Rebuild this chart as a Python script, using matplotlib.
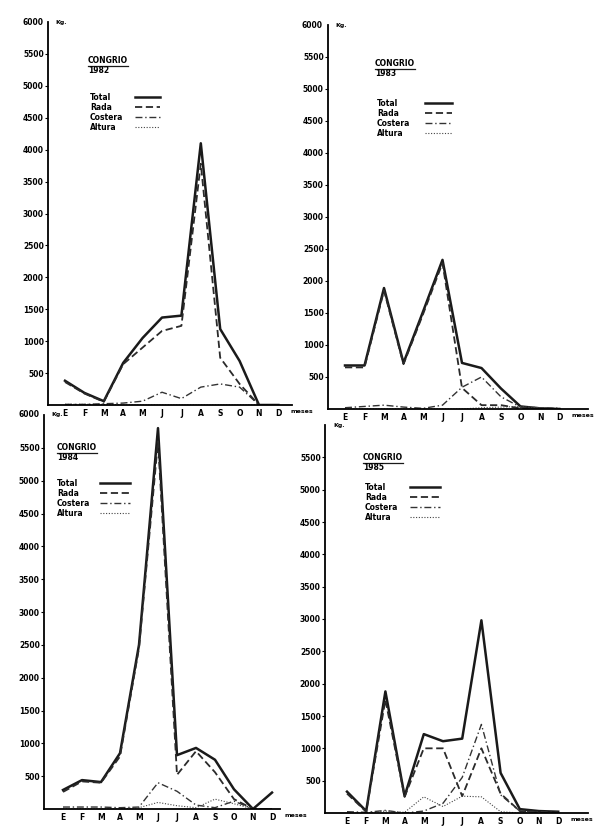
import numpy as np
import matplotlib
matplotlib.use("Agg")
import matplotlib.pyplot as plt
from matplotlib.lines import Line2D

# Captura mensual de congrio (Kg.), por año y por flota
meses = ['E', 'F', 'M', 'A', 'M', 'J', 'J', 'A', 'S', 'O', 'N', 'D']
series = ['Total', 'Rada', 'Costera', 'Altura']

total_82 = [380, 190, 60, 660, 1050, 1370, 1400, 4100, 1190, 690, 0, 0]
rada_82 = [360, 180, 50, 640, 900, 1160, 1240, 3780, 740, 330, 0, 0]
costera_82 = [10, 10, 20, 30, 60, 200, 100, 280, 330, 280, 0, 0]
altura_82 = [10, 10, 10, 0, 0, 0, 0, 0, 0, 0, 0, 0]

total_83 = [680, 680, 1890, 720, 1520, 2330, 720, 640, 320, 40, 10, 0]
rada_83 = [650, 650, 1850, 700, 1480, 2280, 330, 60, 60, 10, 0, 0]
costera_83 = [20, 40, 60, 30, 10, 60, 340, 500, 190, 30, 20, 10]
altura_83 = [0, 0, 0, 0, 0, 0, 0, 20, 30, 40, 20, 10]

total_84 = [290, 440, 410, 850, 2500, 5800, 820, 930, 750, 300, 0, 250]
rada_84 = [260, 420, 400, 800, 2450, 5600, 520, 880, 560, 150, 0, 0]
costera_84 = [30, 30, 30, 20, 30, 400, 270, 60, 20, 120, 0, 0]
altura_84 = [0, 0, 0, 0, 20, 100, 50, 20, 150, 80, 0, 0]

total_85 = [330, 30, 1880, 260, 1220, 1110, 1150, 2980, 620, 60, 30, 20]
rada_85 = [300, 20, 1750, 250, 1000, 1000, 260, 1000, 300, 30, 10, 0]
costera_85 = [20, 10, 40, 0, 30, 150, 550, 1370, 280, 30, 20, 10]
altura_85 = [0, 0, 30, 10, 250, 100, 260, 250, 20, 0, 0, 0]

anios = ['1982', '1983', '1984', '1985']
datos = [
    [total_82, rada_82, costera_82, altura_82],
    [total_83, rada_83, costera_83, altura_83],
    [total_84, rada_84, costera_84, altura_84],
    [total_85, rada_85, costera_85, altura_85],
]
yticks = [500, 1000, 1500, 2000, 2500, 3000, 3500, 4000, 4500, 5000, 5500]

# estilos de linea: total, rada, costera, altura
estilos = [
    dict(ls='-', lw=1.8, color='#1a1a1a'),
    dict(ls=(0, (4, 2)), lw=1.3, color='#2a2a2a'),
    dict(ls=(0, (5, 2, 1, 2)), lw=1.0, color='#333333'),
    dict(ls=(0, (1, 1.5)), lw=0.8, color='#444444'),
]

W, H = 605, 836
# [eje y (px), base (px), tope 6000 (px), derecha (px), x de E (px), paso mes (px)]
paneles = [
    [48, 405, 22, 292, 65, 19.4],
    [328, 409, 25, 588, 345, 19.5],
    [44, 809, 415, 280, 63, 19.0],
    [325, 813, 425, 588, 347, 19.2],
]
# rotulo CONGRIO (px) y leyenda: texto x, y primera fila, linea x0-x1
rotulos = [
    (88, 65, 90, 97, 135, 160),
    (375, 68, 377, 103, 425, 452),
    (57, 452, 57, 483, 100, 130),
    (363, 462, 365, 487, 410, 440),
]

fig = plt.figure(figsize=(W / 100, H / 100), dpi=100)
fig.patch.set_facecolor('white')

for k in range(4):
    x0, yb, yt, xr, xe, paso = paneles[k]
    ax = fig.add_axes([x0 / W, 1 - yb / H, (xr - x0) / W, (yb - yt) / H])
    ax.set_xlim((x0 - xe) / paso, (xr - xe) / paso)
    ax.set_ylim(0, 6000)
    ax.spines['top'].set_visible(False)
    ax.spines['right'].set_visible(False)
    ax.spines['left'].set_linewidth(1.3)
    ax.spines['bottom'].set_linewidth(1.3)
    ax.patch.set_alpha(0)

    x = np.arange(12)
    for serie, st in zip(datos[k], estilos):
        ax.plot(x, serie, **st)

    ax.set_yticks(yticks)
    ax.set_yticklabels([str(v) for v in yticks], fontsize=5.5, fontweight='bold')
    ax.tick_params(axis='y', length=2, width=0.8, pad=1)
    ax.set_xticks(x)
    ax.set_xticklabels(meses, fontsize=5.5, fontweight='bold')
    ax.tick_params(axis='x', length=0, pad=3)

    # rotulos de unidades
    if k != 3:
        ax.text(-0.02, 1.0, '6000', transform=ax.transAxes, ha='right', va='center',
                fontsize=5.5, fontweight='bold')
    ax.text(0.03, 1.0, 'Kg.', transform=ax.transAxes, ha='left', va='center',
            fontsize=4.5, fontweight='bold')
    ax.annotate('meses', xy=(11, 0), xycoords='data', xytext=(9, -3),
                textcoords='offset points', ha='left', va='top',
                fontsize=4.5, fontweight='bold')

    # titulo subrayado
    tx, ty, lx, ly, l0, l1 = rotulos[k]
    t = fig.text(tx / W, 1 - ty / H, 'CONGRIO', fontsize=5.5, fontweight='bold', va='bottom')
    fig.canvas.draw()
    bb = t.get_window_extent().transformed(fig.transFigure.inverted())
    fig.add_artist(Line2D([bb.x0, bb.x1], [bb.y0 - 0.001, bb.y0 - 0.001], lw=0.9,
                          color='#1a1a1a', transform=fig.transFigure))
    fig.text(tx / W, 1 - (ty + 1) / H, anios[k], fontsize=5.5, fontweight='bold', va='top')

    # leyenda: nombre a la izquierda, muestra de linea a la derecha
    for i, (nombre, st) in enumerate(zip(series, estilos)):
        yy = 1 - (ly + 10 * i) / H
        fig.text(lx / W, yy, nombre, fontsize=5.5, fontweight='bold', va='center')
        fig.add_artist(Line2D([l0 / W, l1 / W], [yy, yy], transform=fig.transFigure, **st))

fig.savefig('out.png', dpi=100, facecolor='white')
